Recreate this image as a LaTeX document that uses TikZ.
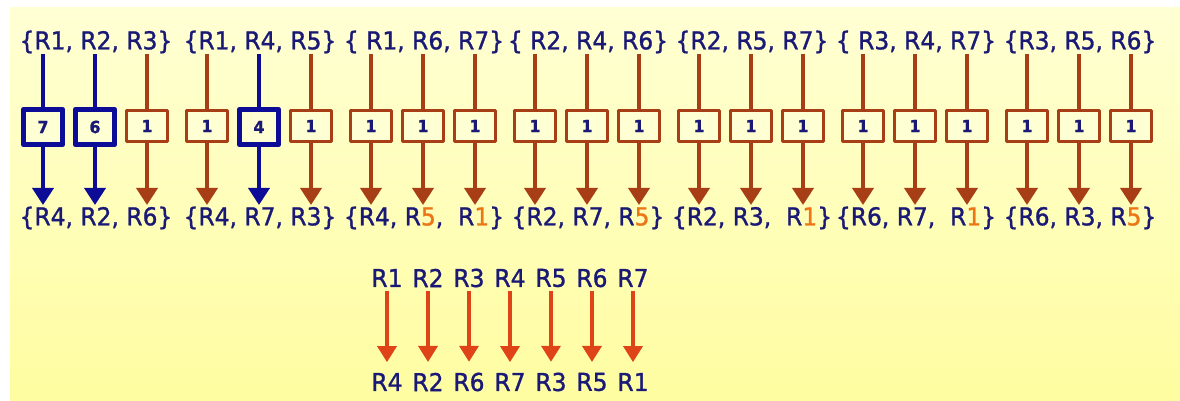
\documentclass[tikz,border=0pt]{standalone}
\usepackage{fontspec}
\setmainfont{DejaVu Sans}[FakeStretch=0.95, FakeBold=1.2]
\usetikzlibrary{arrows.meta}
\definecolor{navy}{RGB}{26,26,118}
\definecolor{royal}{RGB}{12,12,150}
\definecolor{rust}{RGB}{168,62,22}
\definecolor{flame}{RGB}{222,68,24}
\definecolor{amber}{RGB}{236,118,22}
\definecolor{lite}{RGB}{255,255,212}
\definecolor{deep}{RGB}{255,253,160}
\tikzset{
  lbl/.style={text=navy, inner sep=0pt, font=\fontsize{14}{16}\selectfont},
  cnt/.style={draw=rust, line width=1.7pt, fill=lite, inner sep=0pt, minimum width=.82cm, minimum height=.62cm, text=navy, font=\fontsize{9.5}{10}\selectfont\bfseries},
  hot/.style={cnt, draw=royal, line width=3.4pt, minimum width=.78cm, minimum height=.7cm},
  arr/.style={line width=2.1pt, -{Triangle[width=.42cm, length=.34cm]}},
  swap/.style={draw=flame, line width=2pt, -{Triangle[width=.38cm, length=.32cm]}, shorten <=2pt, shorten >=6pt}
}
\newcommand{\hl}[1]{\textcolor{amber}{#1}}
\begin{document}
\begin{tikzpicture}[x=.02cm, y=-.02cm, line join=round]
  \useasboundingbox (0,0) rectangle (1180,401);
  \fill[white] (0,0) rectangle (1180,401);
  \shade[top color=lite, bottom color=deep] (10,8) rectangle (1180,401);
  % triples before and after
  \foreach \s [count=\g from 0] in {{\{R1, R2, R3\}}, {\{R1, R4, R5\}}, {\{~R1, R6, R7\}}, {\{~R2, R4, R6\}}, {\{R2, R5, R7\}}, {\{~R3, R4, R7\}}, {\{R3, R5, R6\}}}
    \node[lbl] (top\g) at (96+164*\g,42) {\s};
  \foreach \s [count=\g from 0] in {{\{R4, R2, R6\}}, {\{R4, R7, R3\}}, {\{R4, R\hl{5},~~R\hl{1}\}}, {\{R2, R7, R\hl{5}\}}, {\{R2, R3,~~R\hl{1}\}}, {\{R6, R7,~~R\hl{1}\}}, {\{R6, R3, R\hl{5}\}}}
    \node[lbl] (bot\g) at (96+164*\g,218) {\s};
  % counts
  \foreach \v [count=\i from 0] in {7,6,1,1,4,1,1,1,1,1,1,1,1,1,1,1,1,1,1,1,1}{
    \pgfmathsetmacro\xx{43+164*floor(\i/3)+52*mod(\i,3)}
    \coordinate (t\i) at (\xx,54);
    \coordinate (e\i) at (\xx,205);
    \ifnum\v>1 \def\cl{royal}\node[hot] (b\i) at (\xx,127) {\v};
    \else \def\cl{rust}\node[cnt] (b\i) at (\xx,126) {\v};
    \fi
    \draw[draw=\cl, line width=2.1pt] (t\i) -- (b\i);
    \draw[arr, draw=\cl] (b\i) -- (e\i);
  }
  % resulting permutation
  \foreach \a/\b [count=\i from 0] in {1/4, 2/2, 3/6, 4/7, 5/3, 6/5, 7/1}{
    \node[lbl] (p\i) at (387+41*\i,278) {R\a};
    \node[lbl] (q\i) at (387+41*\i,382) {R\b};
    \draw[swap] (p\i) -- (q\i);
  }
\end{tikzpicture}
\end{document}
